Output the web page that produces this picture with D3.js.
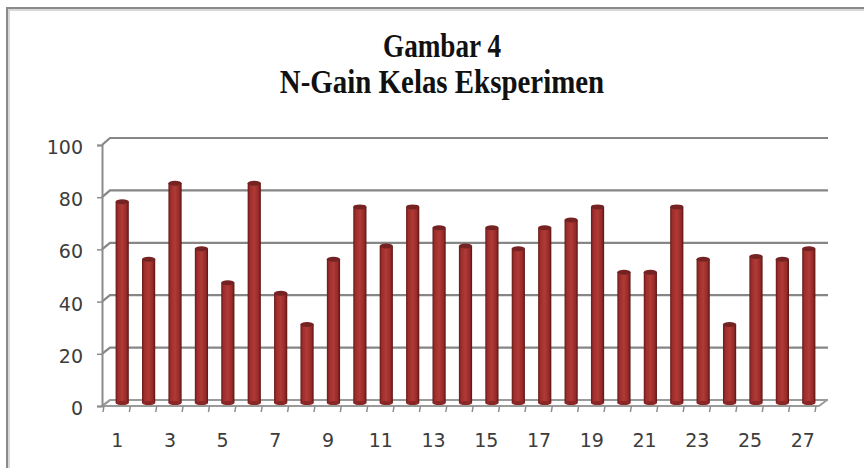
<!DOCTYPE html>
<html>
<head>
<meta charset="utf-8">
<script src="https://cdn.jsdelivr.net/npm/d3@7"></script>
<style>
  body { margin: 0; background: #fff; }
  svg { display: block; }
</style>
</head>
<body>
<div id="chart"></div>
<script>
// chart values
var titleLines = ["Gambar 4", "N-Gain Kelas Eksperimen"];
var categories = d3.range(1, 28).map(String);
var gainValues = [77, 55, 84, 59, 46, 84, 42, 30, 55, 75, 60, 75, 67, 60, 67, 59, 67, 70, 75, 50, 50, 75, 55, 30, 56, 55, 59];
var yTicks = [0, 20, 40, 60, 80, 100];
var xTickLabels = categories.filter(function(d, i) { return i % 2 === 0; });

var width = 864, height = 468;

var svg = d3.select("#chart").append("svg")
  .attr("width", width)
  .attr("height", height);

svg.append("rect").attr("width", width).attr("height", height).attr("fill", "#fff");

// outer frame (only top + left edges are visible)
svg.append("path")
  .attr("d", "M8,468 L8,9 L864,9")
  .attr("fill", "none").attr("stroke", "#d8d8d8").attr("stroke-width", 4);
svg.append("path")
  .attr("d", "M7,468 L7,8 L864,8")
  .attr("fill", "none").attr("stroke", "#8a8a8a").attr("stroke-width", 2);

// title, condensed serif like the original
var titleScale = [0.8, 0.85];
svg.append("g").selectAll("text")
  .data(titleLines)
  .enter().append("text")
  .attr("transform", function(d, i) { return "translate(442," + (57 + i * 36) + ") scale(" + titleScale[i] + ",1)"; })
  .attr("text-anchor", "middle")
  .style("font-family", "'Liberation Serif', 'Times New Roman', serif")
  .style("font-weight", "bold")
  .style("font-size", "34px")
  .style("fill", "#111")
  .text(function(d) { return d; });

// scales: front plane (axes), back wall (gridlines), middle (bars)
var yFront = d3.scaleLinear().domain([0, 100]).range([406, 145]);
var yBack = d3.scaleLinear().domain([0, 100]).range([400, 138]);
var yBar = d3.scaleLinear().domain([0, 100]).range([403, 141.5]);

var xFront = d3.scaleBand().domain(categories).range([104, 816]);
var xBar = d3.scaleBand().domain(categories).range([109, 822]).paddingInner(0.5).paddingOuter(0.25);

var backLeft = 110, backRight = 828, frontLeft = 102;

// gridlines on back wall with depth connectors
var grid = svg.append("g");
yTicks.forEach(function(v) {
  grid.append("path")
    .attr("d", "M" + frontLeft + "," + yFront(v) + " L" + backLeft + "," + yBack(v) + " L" + backRight + "," + yBack(v))
    .attr("fill", "none")
    .attr("stroke", v === 0 ? "#9a9a9a" : "#868686")
    .attr("stroke-width", 2.2);
});

// gradient for the columns
var defs = svg.append("defs");
var grad = defs.append("linearGradient").attr("id", "barGrad").attr("x1", "0%").attr("x2", "100%");
grad.append("stop").attr("offset", "0%").attr("stop-color", "#661a1a");
grad.append("stop").attr("offset", "18%").attr("stop-color", "#9e2e2c");
grad.append("stop").attr("offset", "50%").attr("stop-color", "#b03a36");
grad.append("stop").attr("offset", "82%").attr("stop-color", "#962a28");
grad.append("stop").attr("offset", "100%").attr("stop-color", "#561414");

var bars = svg.append("g").selectAll("g.bar")
  .data(gainValues)
  .enter().append("g").attr("class", "bar");

bars.append("rect")
  .attr("x", function(d, i) { return xBar(categories[i]); })
  .attr("y", function(d) { return yBar(d); })
  .attr("width", xBar.bandwidth())
  .attr("height", function(d) { return yBar(0) - yBar(d); })
  .attr("fill", "url(#barGrad)");

bars.append("ellipse")
  .attr("cx", function(d, i) { return xBar(categories[i]) + xBar.bandwidth() / 2; })
  .attr("cy", function(d) { return yBar(d); })
  .attr("rx", xBar.bandwidth() / 2)
  .attr("ry", 2.5)
  .attr("fill", "#742322");

bars.append("ellipse")
  .attr("cx", function(d, i) { return xBar(categories[i]) + xBar.bandwidth() / 2; })
  .attr("cy", yBar(0))
  .attr("rx", xBar.bandwidth() / 2)
  .attr("ry", 2)
  .attr("fill", "#8a2626");

// front floor edge + right depth edge
var floorRight = xFront.range()[1] + 3;
svg.append("path")
  .attr("d", "M" + frontLeft + "," + yFront(0) + " L" + floorRight + "," + yFront(0) + " L" + (floorRight + 8) + "," + yBack(0))
  .attr("fill", "none").attr("stroke", "#9a9a9a").attr("stroke-width", 2);

// front y axis
var yAxis = d3.axisLeft(yFront).tickValues(yTicks).tickSize(5).tickPadding(14);
var gy = svg.append("g").attr("transform", "translate(" + frontLeft + ",0)").call(yAxis);
gy.select(".domain").attr("stroke", "#8c8c8c").attr("stroke-width", 2);
gy.selectAll(".tick line").attr("stroke", "#8c8c8c").attr("stroke-width", 1.5);
gy.selectAll(".tick text")
  .style("font-family", "'DejaVu Sans', sans-serif")
  .style("font-size", "19px")
  .style("fill", "#3c3c3c")
  .attr("dy", "0.45em");

// x axis ticks (category boundaries) and labels
var tickPos = categories.map(function(c) { return xFront(c); }).concat([xFront.range()[1]]);
svg.append("g").selectAll("line")
  .data(tickPos)
  .enter().append("line")
  .attr("x1", function(d) { return d; })
  .attr("x2", function(d) { return d - 1; })
  .attr("y1", yFront(0))
  .attr("y2", yFront(0) + 6)
  .attr("stroke", "#8c8c8c").attr("stroke-width", 1.5);

svg.append("g").selectAll("text")
  .data(xTickLabels)
  .enter().append("text")
  .attr("x", function(d) { return xFront(d) + xFront.bandwidth() / 2; })
  .attr("y", 447)
  .attr("text-anchor", "middle")
  .style("font-family", "'DejaVu Sans', sans-serif")
  .style("font-size", "19px")
  .style("fill", "#3c3c3c")
  .text(function(d) { return d; });
</script>
</body>
</html>
